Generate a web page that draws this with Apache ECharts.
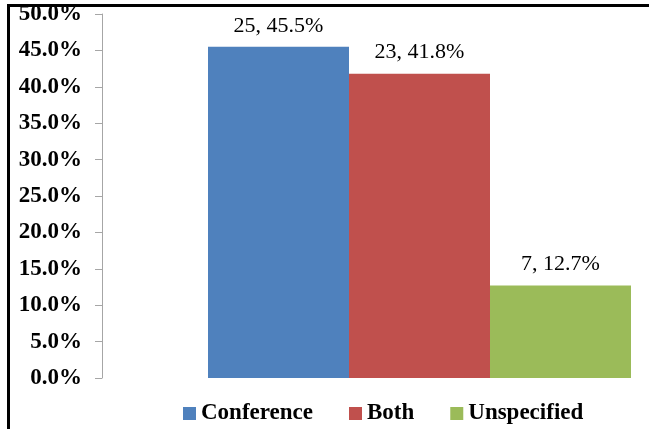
<!DOCTYPE html>
<html>
<head>
<meta charset="utf-8">
<style>
  html, body { margin: 0; padding: 0; background: #fff; }
  #chart { width: 649px; height: 429px; }
</style>
<script src="https://cdn.jsdelivr.net/npm/echarts@6/dist/echarts.min.js"></script>
</head>
<body>
<div id="chart"></div>
<script>
// Share of items by type (percent) with their counts
const seriesNames = ['Conference', 'Both', 'Unspecified'];
const counts = [25, 23, 7];
const percents = [45.5, 41.8, 12.7];
const colors = ['#4F81BD', '#C0504D', '#9BBB59'];
const yMin = 0, yMax = 50, yStep = 5;

const serif = "'Liberation Serif', 'Times New Roman', serif";
const chart = echarts.init(document.getElementById('chart'), null, { renderer: 'canvas' });

const series = seriesNames.map((name, i) => ({
  name: name,
  type: 'bar',
  data: [percents[i]],
  barWidth: 141,
  barGap: '0%',
  itemStyle: { color: colors[i] },
  label: {
    show: true,
    position: 'top',
    distance: 10,
    fontFamily: serif,
    fontSize: 22,
    color: '#000',
    formatter: () => counts[i] + ', ' + percents[i].toFixed(1) + '%'
  }
}));

// The plot band starts at 190 so the bar group sits right of centre;
// the value axis is pushed back out to x = 102.
const gridLeft = 190;
const axisX = 102;

chart.setOption({
  animation: false,
  backgroundColor: '#fff',
  grid: { left: gridLeft, top: 14, bottom: 51, right: 0, containLabel: false },
  legend: {
    data: seriesNames,
    left: 178,
    top: 397,
    icon: 'rect',
    itemWidth: 13,
    itemHeight: 13,
    itemGap: 36,
    textStyle: { fontFamily: serif, fontSize: 23, fontWeight: 'bold', color: '#000' }
  },
  xAxis: {
    type: 'category',
    data: [''],
    axisLine: { show: false },
    axisTick: { show: false },
    axisLabel: { show: false }
  },
  yAxis: {
    type: 'value',
    min: yMin,
    max: yMax,
    interval: yStep,
    offset: gridLeft - axisX,
    splitLine: { show: false },
    axisLine: { show: true, lineStyle: { color: '#a6a6a6', width: 1 } },
    axisTick: { show: true, length: 7, lineStyle: { color: '#a6a6a6' } },
    axisLabel: {
      margin: 20,
      fontFamily: serif,
      fontSize: 23,
      fontWeight: 'bold',
      color: '#000',
      formatter: v => v.toFixed(1) + '%'
    }
  },
  series: series,
  graphic: [
    { type: 'rect', z: 100, shape: { x: 0, y: 0, width: 649, height: 4 }, style: { fill: '#fff' } },
    { type: 'rect', z: 100, shape: { x: 7, y: 4, width: 642, height: 3 }, style: { fill: '#000' } },
    { type: 'rect', z: 100, shape: { x: 7, y: 4, width: 3, height: 425 }, style: { fill: '#000' } }
  ]
});
</script>
</body>
</html>
